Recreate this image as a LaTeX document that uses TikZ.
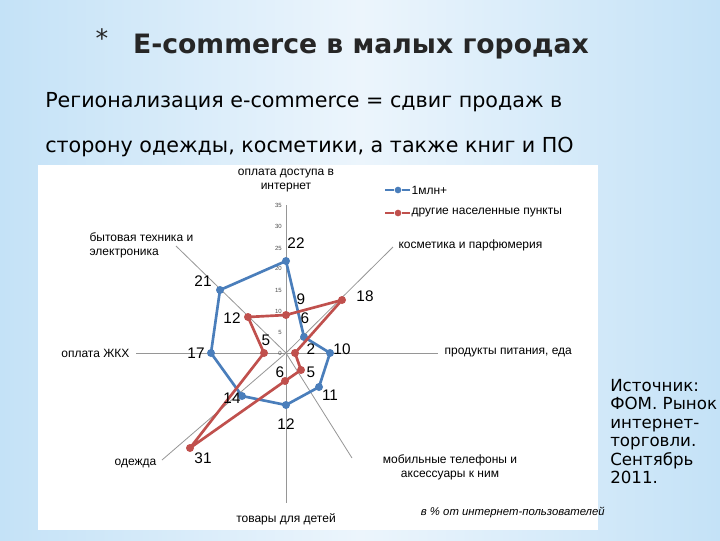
\documentclass[tikz,border=0pt]{standalone}
\usepackage{fontspec}
\setmainfont{Liberation Sans}
\newfontfamily\titlef{DejaVu Sans}
\usetikzlibrary{shadings}
\definecolor{bser}{RGB}{74,126,187}
\definecolor{rser}{RGB}{192,80,77}
\definecolor{bgl}{RGB}{196,226,247}
\definecolor{bgc}{RGB}{236,245,252}
\definecolor{axc}{RGB}{150,150,150}
\tikzset{
 axisline/.style={draw=axc,line width=0.6pt},
 bline/.style={draw=bser,line width=2pt,line join=round},
 rline/.style={draw=rser,line width=2pt,line join=round},
 bdot/.style={circle,fill=bser,inner sep=0pt,minimum size=6pt},
 rdot/.style={circle,fill=rser,inner sep=0pt,minimum size=6pt},
 alab/.style={font=\fontsize{9}{10.5}\selectfont,align=center,inner sep=1pt},
 vlab/.style={font=\fontsize{11.5}{12}\selectfont,inner sep=0pt},
 tlab/.style={font=\fontsize{4.5}{5}\selectfont,text=black!70,inner sep=0pt,anchor=east},
 body/.style={font=\titlef\fontsize{15.5}{17}\selectfont,anchor=west,inner sep=0pt}
}
\begin{document}
\begin{tikzpicture}[x=0.75pt,y=-0.75pt]
\useasboundingbox (0,0) rectangle (720,540);
\shade[left color=bgl,right color=bgl,middle color=bgc] (0,0) rectangle (720,540);
% title
\node[font=\titlef\fontsize{19}{20}\selectfont,text=black!85] (ast) at (102,38) {*};
\node[font=\titlef\bfseries\fontsize{20}{22}\selectfont,text=black!85] (title) at (361,47) {E-commerce в малых городах};
\node[body] (l1) at (45,102) {Регионализация e-commerce = сдвиг продаж в};
\node[body] (l2) at (45,147) {сторону одежды, косметики, а также книг и ПО};
% chart area
\fill[white] (38,165) rectangle (598,530);
% center & axes ends
\coordinate (O) at (286,353);
\coordinate (aN) at (286,205);
\coordinate (aNE) at (393,247);
\coordinate (aE) at (438,353);
\coordinate (aSE) at (352,458);
\coordinate (aS) at (286,503);
\coordinate (aSW) at (162,460);
\coordinate (aW) at (136,353);
\coordinate (aNW) at (176,246);
\foreach \a in {aN,aNE,aE,aSE,aS,aSW,aW,aNW} \draw[axisline] (O) -- (\a);
\foreach \v/\y in {35/205,30/226,25/248,20/268,15/290,10/311,5/332,0/353}
  \node[tlab] (t\v) at (282,\y) {\v};
% blue series
\node[bdot] (b1) at (286,261) {};
\node[bdot] (b2) at (304,337) {};
\node[bdot] (b3) at (330,353) {};
\node[bdot] (b4) at (319,387) {};
\node[bdot] (b5) at (286,405) {};
\node[bdot] (b6) at (242,396) {};
\node[bdot] (b7) at (211,353) {};
\node[bdot] (b8) at (220,290) {};
\draw[bline] (b1.center)--(b2.center)--(b3.center)--(b4.center)--(b5.center)--(b6.center)--(b7.center)--(b8.center)--cycle;
% red series
\node[rdot] (r1) at (286,315) {};
\node[rdot] (r2) at (342,300) {};
\node[rdot] (r3) at (295,353) {};
\node[rdot] (r4) at (301,370) {};
\node[rdot] (r5) at (285,381) {};
\node[rdot] (r6) at (190,448) {};
\node[rdot] (r7) at (264,353) {};
\node[rdot] (r8) at (248,317) {};
\draw[rline] (r1.center)--(r2.center)--(r3.center)--(r4.center)--(r5.center)--(r6.center)--(r7.center)--(r8.center)--cycle;
% value labels
\node[vlab] (v22) at (296,243) {22};
\node[vlab] (v21) at (203,281) {21};
\node[vlab] (v17) at (196,353) {17};
\node[vlab] (v14) at (232,398) {14};
\node[vlab] (v12b) at (286,424) {12};
\node[vlab] (v11) at (330,395) {11};
\node[vlab] (v10) at (342,349) {10};
\node[vlab] (v9) at (301,299) {9};
\node[vlab] (v18) at (365,296) {18};
\node[vlab] (v6a) at (305,318) {6};
\node[vlab] (v12r) at (232,318) {12};
\node[vlab] (v5a) at (266,340) {5};
\node[vlab] (v2) at (311,349) {2};
\node[vlab] (v5b) at (311,372) {5};
\node[vlab] (v6b) at (280,372) {6};
\node[vlab] (v31) at (203,458) {31};
% axis labels
\node[alab] (LN) at (286,181) {оплата доступа в\\интернет};
\node[alab,anchor=west,align=left] (LNW) at (88,245) {бытовая техника и\\электроника};
\node[alab,anchor=west] (LNE) at (397,245) {косметика и парфюмерия};
\node[alab,anchor=east] (LW) at (131,353) {оплата ЖКХ};
\node[alab,anchor=west] (LE) at (443,353) {продукты питания, еда};
\node[alab] (LSE) at (450,467) {мобильные телефоны и\\аксессуары к ним};
\node[alab,anchor=east] (LSW) at (158,463) {одежда};
\node[alab] (LS) at (286,519) {товары для детей};
% legend
\node[bdot,minimum size=5pt] (lb) at (398,190) {};
\draw[bser,line width=2pt] (385,190) -- (lb) -- (410,190);
\node[alab,anchor=west] (lbt) at (410,190) {1млн+};
\node[rdot,minimum size=5pt] (lr) at (398,213) {};
\draw[rser,line width=2pt] (385,213) -- (lr) -- (410,213);
\node[alab,anchor=west] (lrt) at (410,213) {другие населенные пункты};
\node[font=\itshape\fontsize{8.5}{10}\selectfont,anchor=east,inner sep=0pt] (note) at (605,512) {в \% от интернет-пользователей};
% source
\node[font=\titlef\fontsize{12.5}{16.2}\selectfont,anchor=north west,align=left,inner sep=0pt] (src) at (610,379)
 {Источник:\\[-2.4pt]ФОМ. Рынок\\[-2.4pt]интернет-\\[-2.4pt]торговли.\\[-2.4pt]Сентябрь\\[-2.4pt]2011.};
\end{tikzpicture}
\end{document}
